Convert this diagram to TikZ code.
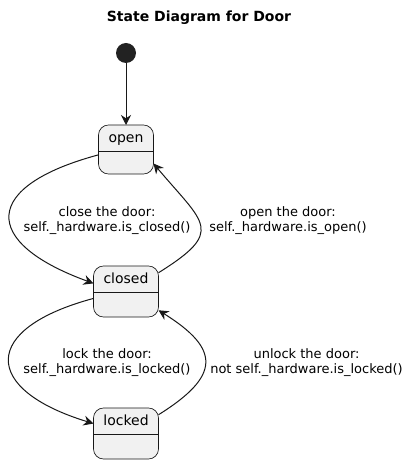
\documentclass[tikz,border=0pt]{standalone}
\usepackage{fontspec}
\setmainfont{DejaVu Sans}
\usetikzlibrary{positioning, arrows.meta}
\definecolor{umlline}{HTML}{181818}
\definecolor{umlfill}{HTML}{F1F1F1}
\definecolor{umldot}{HTML}{222222}
\tikzset{
	edge/.style={draw=umlline, line width=0.75pt, -{Stealth[length=7.5pt, width=7.5pt, inset=2.5pt]}},
	state box/.style={
		rectangle,
		draw=umlline,
		fill=umlfill,
		line width=0.5pt,
		rounded corners=7.5pt,
		minimum width=48.75pt,
		minimum height=38.25pt,
		inner sep=0pt,
		outer sep=0pt
	},
	state line/.style={draw=umlline, line width=0.5pt},
	state label/.style={font=\fontsize{10.5}{12}\selectfont, inner sep=0pt},
	start dot/.style={circle, fill=umldot, minimum size=15pt, inner sep=0pt, outer sep=0pt},
	guard/.style={align=center, font=\fontsize{9.75}{11.25}\selectfont, inner sep=0pt},
	title/.style={font=\fontsize{10.5}{12}\selectfont\bfseries, inner sep=0pt}
}
\newcommand{\statenode}[3]{% node name, label, options for box
	\node (#1) [state box, #3] {};
	\draw[state line] ([yshift=-19.5pt]#1.north west) -- ([yshift=-19.5pt]#1.north east);
	\node[state label, anchor=base] at ([yshift=-13pt]#1.north) {#2}
}

\begin{document}
\begin{tikzpicture}[x=0.75pt, y=-0.75pt]
	\useasboundingbox (0,0) rectangle (411,463);
	\node[title] (heading) at (199,18) {State Diagram for Door};
	\node[start dot] (start) at (126,53) {};

	\statenode{open}{open}{below=46.5pt of start, minimum width=41.25pt, minimum height=36.75pt};
	\draw[edge] (start) -- (open);

	\statenode{closed}{closed}{below=69pt of open};
	\draw[edge] (open.191) to[out=195, in=160, looseness=2.4] (closed.166);
	\draw[edge] (closed.30) to[out=32, in=-50, looseness=1.85] (open.-27);

	\statenode{locked}{locked}{below=68.25pt of closed};
	\draw[edge] (closed.192) to[out=195, in=163, looseness=2.4] (locked.163);
	\draw[edge] (locked.30) to[out=32, in=-32, looseness=1.8] (closed.-30);

	\node[guard] (close guard) at (107,220.5) {close the door:\\self.\_hardware.is\_closed()};
	\node[guard] (open guard) at (288,220.5) {open the door:\\self.\_hardware.is\_open()};
	\node[guard] (lock guard) at (107,362.5) {lock the door:\\self.\_hardware.is\_locked()};
	\node[guard] (unlock guard) at (306.5,362.5) {unlock the door:\\not self.\_hardware.is\_locked()};
\end{tikzpicture}
\end{document}
